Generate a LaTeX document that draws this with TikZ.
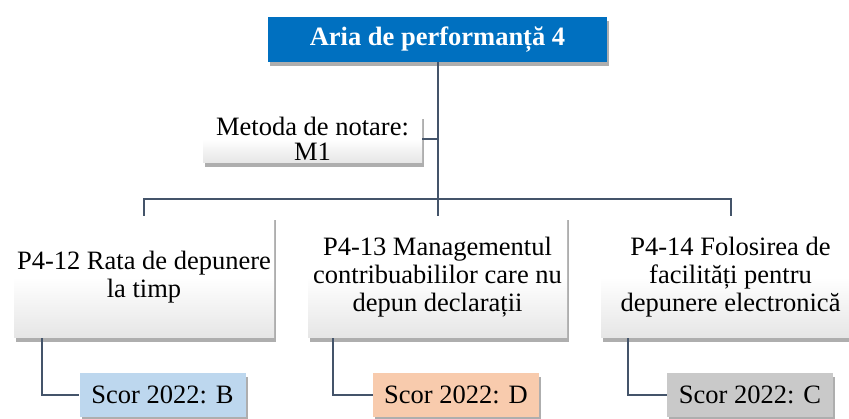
\documentclass[tikz,border=0pt]{standalone}
\usepackage{fontspec}
\setmainfont{Liberation Serif}
\usetikzlibrary{shadows,positioning}
\definecolor{topblue}{HTML}{0070C0}
\definecolor{linec}{HTML}{44546A}
\definecolor{scoreB}{HTML}{BDD7EE}
\definecolor{scoreD}{HTML}{F8CBAD}
\definecolor{scoreC}{HTML}{C9C9C9}
\tikzset{
  shd/.style={drop shadow={shadow xshift=2pt,shadow yshift=-4pt,opacity=0.45,fill=black!70}},
  whitebox/.style={shd,top color=white,bottom color=black!10,middle color=white,align=center,
     inner sep=0pt,font=\fontsize{26.5}{28}\selectfont},
  scorebox/.style={shd,minimum width=166pt,minimum height=44pt,inner sep=0pt,
     font=\fontsize{26.5}{28}\selectfont},
  conn/.style={draw=linec,line width=2pt}
}
\begin{document}
\begin{tikzpicture}[x=1pt,y=1pt]
\useasboundingbox (0,0) rectangle (849,419);
\node[shd,fill=topblue,text=white,minimum width=339pt,minimum height=45pt,inner sep=0pt,
  font=\fontsize{26.5}{28}\selectfont\bfseries] (top) at (437.5,379.5) {Aria de performanță 4};
\node[whitebox,minimum width=219pt,minimum height=48pt,font=\fontsize{26.5}{25}\selectfont] (met) at (312.5,280) {Metoda de notare:\\M1};
\node[whitebox,minimum width=260pt,minimum height=122pt] (p12) at (144,142) {P4-12 Rata de depunere\\la timp};
\node[whitebox,minimum width=259pt,minimum height=122pt] (p13) at (437.5,142) {P4-13 Managementul\\contribuabililor care nu\\depun declarații};
\node[whitebox,minimum width=259pt,minimum height=122pt] (p14) at (730.5,142) {P4-14 Folosirea de\\facilități pentru\\depunere electronică};
\node[scorebox,fill=scoreB] (s12) at (162.5,24) {Scor 2022: B};
\node[scorebox,fill=scoreD] (s13) at (456,24) {Scor 2022: D};
\node[scorebox,fill=scoreC] (s14) at (750,24) {Scor 2022: C};
\coordinate (bar) at (437.5,220);
\begin{scope}[on background layer/.try]
\end{scope}
\draw[conn] (top.south) -- (bar);
\draw[conn] (met.east) -- (met.east -| top.south);
\draw[conn] (p12.north) |- (bar) -| (p14.north);
\draw[conn] (bar) -- (p13.north);
\draw[conn] ([xshift=28pt]p12.south west) |- (s12.west);
\draw[conn] ([xshift=25pt]p13.south west) |- (s13.west);
\draw[conn] ([xshift=27pt]p14.south west) |- (s14.west);
\end{tikzpicture}
\end{document}
